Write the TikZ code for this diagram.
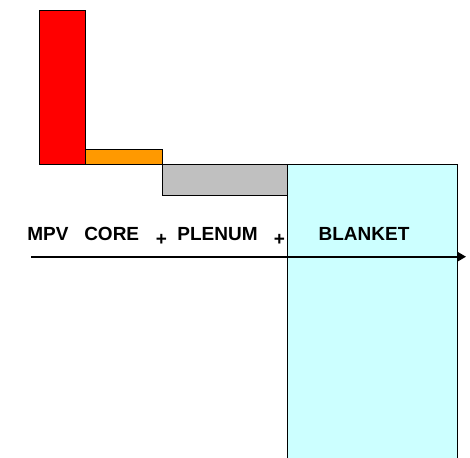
\documentclass[tikz,border=0pt]{standalone}
\usepackage{fontspec}
\setmainfont{Liberation Sans}
\usetikzlibrary{arrows.meta}
\definecolor{mpvred}{HTML}{FF0000}
\definecolor{coreorange}{HTML}{FF9900}
\definecolor{plenumgray}{HTML}{C0C0C0}
\definecolor{blanketcyan}{HTML}{CCFFFF}
\tikzset{
  region/.style={draw=black, line width=0.9pt},
  lbl/.style={anchor=base, inner sep=0pt, font=\fontsize{19}{22}\selectfont\bfseries},
  axis/.style={line width=1.8pt, -{Triangle[length=9pt,width=10pt]}}
}
\begin{document}
\begin{tikzpicture}[x=1pt,y=-1pt]
\useasboundingbox (0,0) rectangle (470,457);
% blanket extends below the frame
\fill[blanketcyan] (287,164) rectangle (457,470);
\draw[region] (287,470) -- (287,164) -- (457,164) -- (457,470);
% vessel, core and plenum blocks
\filldraw[region, fill=mpvred] (39,10) rectangle (85,164);
\filldraw[region, fill=coreorange] (85,149) rectangle (162,164);
\filldraw[region, fill=plenumgray] (162,164) rectangle (287,195);
% labels
\node[lbl] (mpv) at (48,240) {MPV};
\node[lbl] (core) at (111.7,240) {CORE};
\node[lbl] (plus1) at (161.5,245) {+};
\node[lbl] (plenum) at (217.5,240) {PLENUM};
\node[lbl] (plus2) at (279.5,245) {+};
\node[lbl] (blanket) at (364,240) {BLANKET};
% radial axis
\coordinate (axstart) at (31,256.7);
\coordinate (axend) at (466,256.7);
\draw[axis] (axstart) -- (axend);
\end{tikzpicture}
\end{document}
